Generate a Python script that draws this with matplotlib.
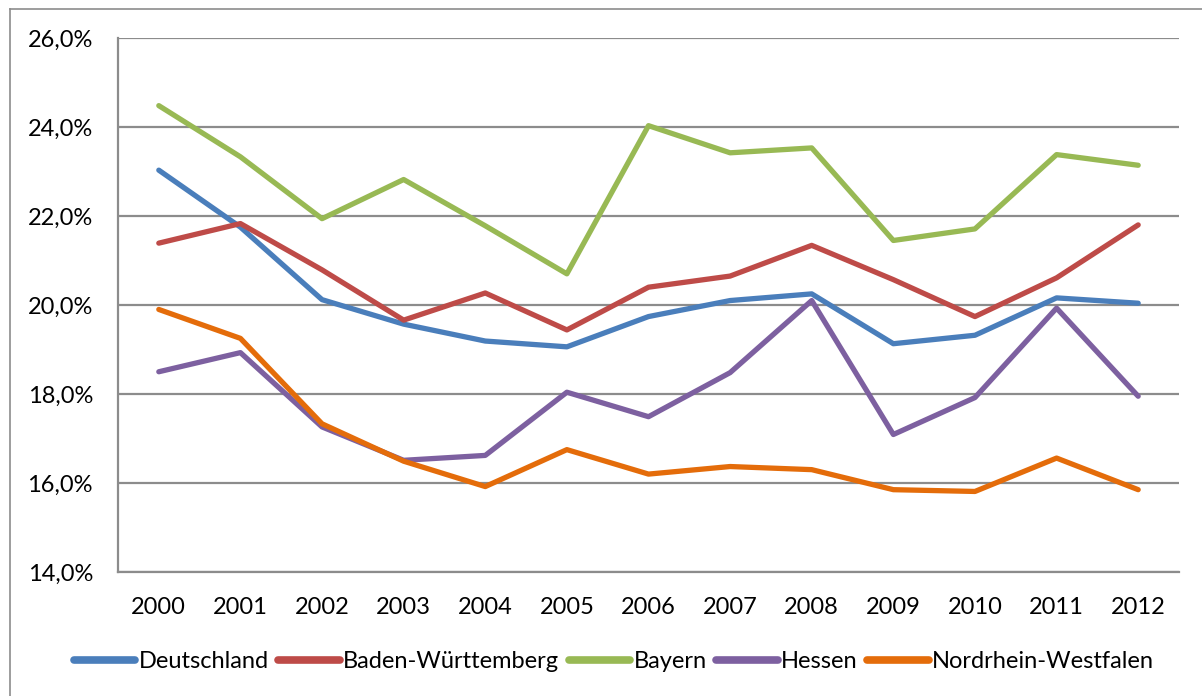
import matplotlib
matplotlib.use("Agg")
import matplotlib.pyplot as plt
from matplotlib.lines import Line2D
from matplotlib.ticker import FuncFormatter

years = ["2000", "2001", "2002", "2003", "2004", "2005", "2006",
         "2007", "2008", "2009", "2010", "2011", "2012"]
deutschland = [23.03, 21.75, 20.12, 19.57, 19.19, 19.06, 19.74, 20.10, 20.25, 19.13, 19.32, 20.16, 20.04]
baden_wuerttemberg = [21.39, 21.83, 20.79, 19.66, 20.27, 19.44, 20.40, 20.65, 21.34, 20.57, 19.74, 20.61, 21.80]
bayern = [24.48, 23.33, 21.94, 22.82, 21.78, 20.70, 24.03, 23.42, 23.53, 21.45, 21.71, 23.38, 23.14]
hessen = [18.50, 18.93, 17.26, 16.51, 16.62, 18.04, 17.49, 18.48, 20.10, 17.09, 17.92, 19.93, 17.95]
nrw = [19.90, 19.25, 17.33, 16.49, 15.92, 16.75, 16.20, 16.37, 16.30, 15.85, 15.81, 16.56, 15.85]

series_names = ["Deutschland", "Baden-Württemberg", "Bayern", "Hessen", "Nordrhein-Westfalen"]
series_values = [deutschland, baden_wuerttemberg, bayern, hessen, nrw]
colors = ["#4A7EBB", "#BE4B48", "#98B954", "#7D60A0", "#E46C0A"]

plt.rcParams['font.family'] = ['Lato', 'DejaVu Sans']

W, H = 1202, 696
fig = plt.figure(figsize=(W / 100, H / 100), dpi=100)
ax = fig.add_axes([118 / W, 1 - 572 / H, (1179 - 118) / W, (572 - 38) / H])

x = list(range(len(years)))
for name, vals, c in zip(series_names, series_values, colors):
    ax.plot(x, vals, color=c, lw=3.8, solid_capstyle='round',
            solid_joinstyle='round', label=name)

ax.set_xlim(-0.5, len(years) - 0.5)
ax.set_ylim(14, 26)
ax.set_yticks([14, 16, 18, 20, 22, 24, 26])
ax.yaxis.set_major_formatter(FuncFormatter(lambda v, p: f"{v:.1f}%".replace(".", ",")))
ax.set_xticks(x)
ax.set_xticklabels(years)
ax.tick_params(axis='both', length=0, labelsize=17, colors='black')
ax.tick_params(axis='y', pad=18)
ax.tick_params(axis='x', pad=18)

ax.grid(axis='y', color='#8C8C8C', lw=1.6)
ax.set_axisbelow(True)
for s in ['top', 'right']:
    ax.spines[s].set_visible(False)
for s in ['left', 'bottom']:
    ax.spines[s].set_color('#8C8C8C')
    ax.spines[s].set_linewidth(1.6)

handles = [Line2D([0], [0], color=c, lw=5.5, solid_capstyle='round') for c in colors]
fig.legend(handles, series_names, loc='center', bbox_to_anchor=(614 / W, 1 - 662 / H),
           ncol=5, frameon=False, fontsize=17, handlelength=2.6, handletextpad=0.15,
           columnspacing=0.4, borderaxespad=0)

# outer chart border (left and top visible)
fig.add_artist(Line2D([9.5 / W, 9.5 / W], [0, 1 - 9 / H], color='#8C8C8C', lw=1.2,
                      transform=fig.transFigure))
fig.add_artist(Line2D([9.5 / W, 1], [1 - 9 / H, 1 - 9 / H], color='#8C8C8C', lw=1.2,
                      transform=fig.transFigure))

fig.savefig("out.png", dpi=100)
